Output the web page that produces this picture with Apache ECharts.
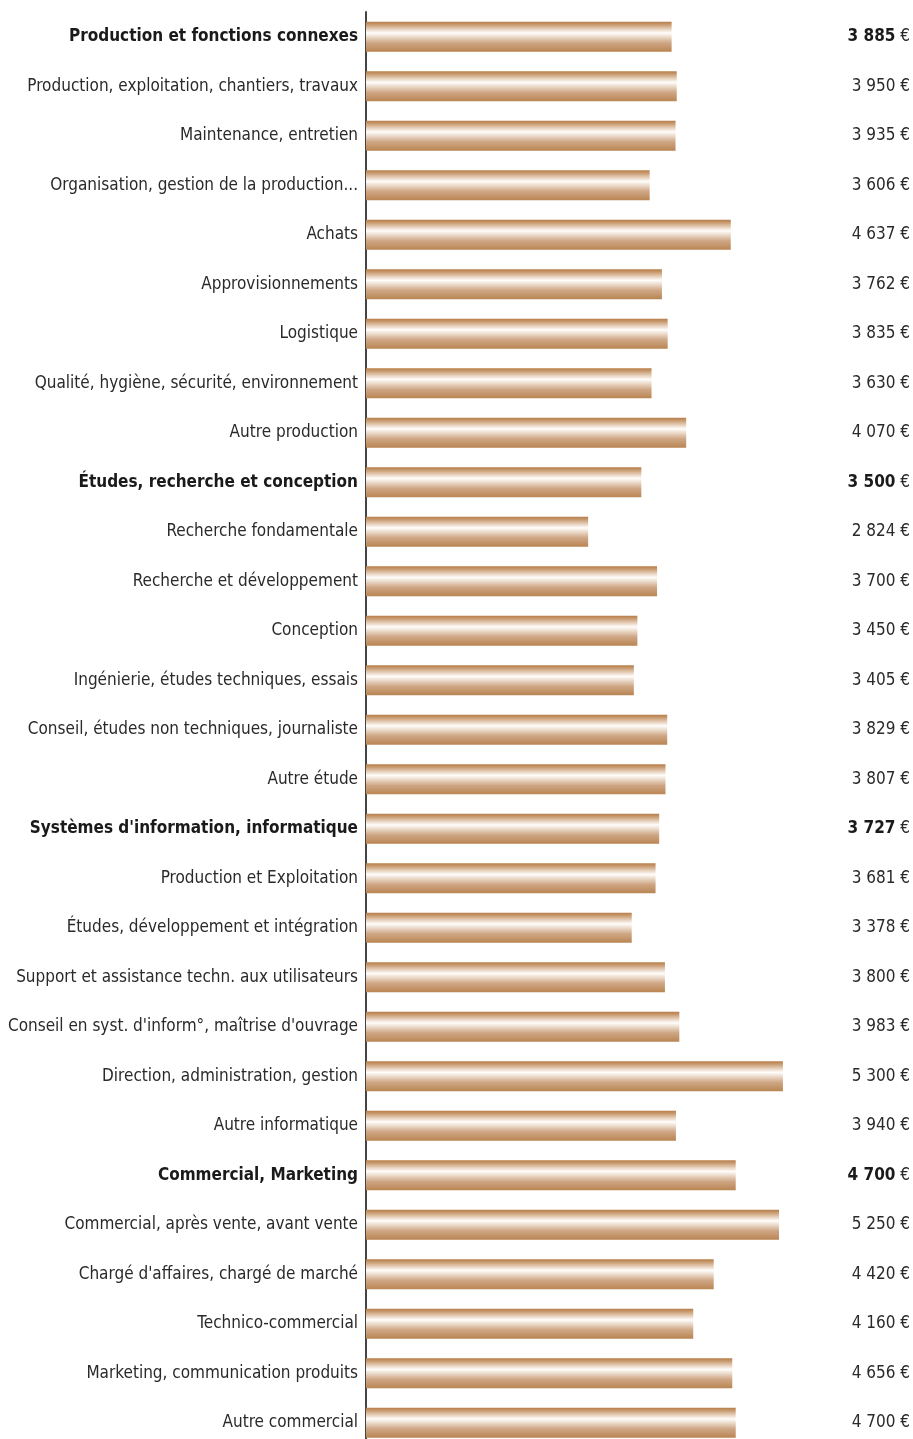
<!DOCTYPE html>
<html>
<head>
<meta charset="utf-8">
<script src="https://cdn.jsdelivr.net/npm/echarts@6/dist/echarts.min.js"></script>
<style>
  html, body { margin: 0; padding: 0; background: #fff; }
  #chart { width: 913px; height: 1439px; }
</style>
</head>
<body>
<div id="chart"></div>
<script>
// Salaires mensuels par fonction (en euros)
const categories = [
  "Production et fonctions connexes",
  "Production, exploitation, chantiers, travaux",
  "Maintenance, entretien",
  "Organisation, gestion de la production...",
  "Achats",
  "Approvisionnements",
  "Logistique",
  "Qualité, hygiène, sécurité, environnement",
  "Autre production",
  "Études, recherche et conception",
  "Recherche fondamentale",
  "Recherche et développement",
  "Conception",
  "Ingénierie, études techniques, essais",
  "Conseil, études non techniques, journaliste",
  "Autre étude",
  "Systèmes d'information, informatique",
  "Production et Exploitation",
  "Études, développement et intégration",
  "Support et assistance techn. aux utilisateurs",
  "Conseil en syst. d'inform°, maîtrise d'ouvrage",
  "Direction, administration, gestion",
  "Autre informatique",
  "Commercial, Marketing",
  "Commercial, après vente, avant vente",
  "Chargé d'affaires, chargé de marché",
  "Technico-commercial",
  "Marketing, communication produits",
  "Autre commercial"
];

const salaries = [
  3885, 3950, 3935, 3606, 4637, 3762, 3835, 3630, 4070,
  3500, 2824, 3700, 3450, 3405, 3829, 3807,
  3727, 3681, 3378, 3800, 3983, 5300, 3940,
  4700, 5250, 4420, 4160, 4656, 4700
];

// Rubriques principales (affichées en gras)
const headings = [
  "Production et fonctions connexes",
  "Études, recherche et conception",
  "Systèmes d'information, informatique",
  "Commercial, Marketing"
];

const FONT = "'Liberation Sans Narrow', 'DejaVu Sans Condensed', 'Roboto Condensed', 'Liberation Sans', sans-serif";
const FS = 17;

function fmt(v) {
  return String(v).replace(/\B(?=(\d{3})+(?!\d))/g, ' ');
}

const chart = echarts.init(document.getElementById('chart'), null, { renderer: 'canvas' });

const barGradient = new echarts.graphic.LinearGradient(0, 0, 0, 1, [
  { offset: 0, color: '#b67d48' },
  { offset: 0.1, color: '#c99c72' },
  { offset: 0.24, color: '#e6cfba' },
  { offset: 0.37, color: '#fffdfb' },
  { offset: 0.5, color: '#ecdccc' },
  { offset: 0.7, color: '#cfa786' },
  { offset: 1, color: '#b98552' }
]);

chart.setOption({
  animation: false,
  backgroundColor: '#ffffff',
  grid: {
    left: 366, top: 12, width: 472, height: 1435.5,
    containLabel: false, outerBoundsMode: 'none'
  },
  xAxis: {
    type: 'value', min: 0, max: 6000,
    show: false
  },
  yAxis: [
    {
      type: 'category', data: categories, inverse: true,
      axisLine: { show: true, lineStyle: { color: '#444', width: 2 } },
      axisTick: { show: false },
      axisLabel: {
        margin: 8, fontFamily: FONT, fontSize: FS, color: '#2a2a2a',
        formatter: function (v) {
          return headings.indexOf(v) >= 0 ? '{b|' + v + '}' : '{n|' + v + '}';
        },
        rich: {
          b: { fontFamily: FONT, fontSize: FS, fontWeight: 'bold', color: '#1a1a1a' },
          n: { fontFamily: FONT, fontSize: FS, color: '#2a2a2a' }
        }
      }
    },
    {
      type: 'category', data: categories, inverse: true, position: 'right',
      axisLine: { show: false }, axisTick: { show: false },
      axisLabel: {
        margin: 72, align: 'right', fontFamily: FONT, fontSize: FS, color: '#2a2a2a',
        formatter: function (v, i) {
          const num = fmt(salaries[i]);
          return headings.indexOf(v) >= 0
            ? '{b|' + num + '} {e|€}'
            : '{n|' + num + '} {e|€}';
        },
        rich: {
          b: { fontFamily: FONT, fontSize: FS, fontWeight: 'bold', color: '#1a1a1a' },
          n: { fontFamily: FONT, fontSize: FS, color: '#2a2a2a' },
          e: { fontFamily: FONT, fontSize: FS, color: '#2a2a2a' }
        }
      }
    }
  ],
  series: [{
    type: 'bar',
    data: salaries,
    barWidth: 30,
    itemStyle: { color: barGradient },
    silent: true
  }]
});
</script>
</body>
</html>
